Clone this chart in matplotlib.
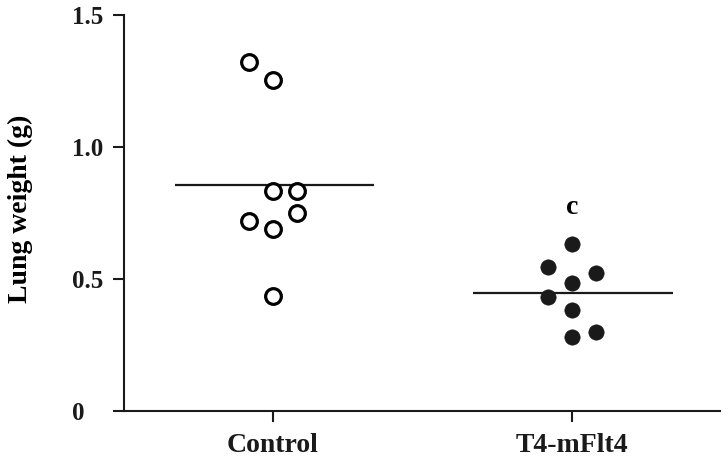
import matplotlib
matplotlib.use("Agg")
import matplotlib.pyplot as plt
import numpy as np

plt.rcParams['font.family'] = ['Liberation Serif', 'DejaVu Serif']
plt.rcParams['font.weight'] = 'bold'

categories = ["Control", "T4-mFlt4"]
control_values = [1.323, 1.254, 0.833, 0.833, 0.721, 0.689, 0.751, 0.437]
control_cols = [-1, 0, 0, 1, -1, 0, 1, 0]
t4_values = [0.633, 0.545, 0.523, 0.485, 0.432, 0.383, 0.299, 0.280]
t4_cols = [0, -1, 1, 0, -1, 0, 1, 0]
yticks = [0, 0.5, 1.0, 1.5]
ytick_labels = ["0", "0.5", "1.0", "1.5"]
sig_label = "c"

fig = plt.figure(figsize=(7.28, 4.59), dpi=100)
ax = fig.add_axes([124/728, 1-411/459, (720-124)/728, (411-15)/459])

cat_pos = [1, 2]
col_space = 24/299
line_span = [(0.672, 1.338), (1.669, 2.338)]

groups = [(control_values, control_cols), (t4_values, t4_cols)]
for i, (vals, cols) in enumerate(groups):
    xs = cat_pos[i] + np.array(cols) * col_space
    if i == 0:
        ax.plot(xs, vals, 'o', ms=11.3, mfc='white', mec='black', mew=2.3,
                linestyle='none', zorder=3)
    else:
        ax.plot(xs, vals, 'o', ms=11, mfc='#1a1a1a', mec='#1a1a1a', mew=0.5,
                linestyle='none', zorder=3)
    m = np.mean(vals)
    ax.plot(line_span[i], [m, m], color='#1a1a1a', lw=1.6, zorder=2,
            solid_capstyle='butt')

ax.text(cat_pos[1], 0.769, sig_label, ha='center', va='center',
        fontsize=20, fontweight='bold')

ax.set_xlim(1 - 149/299, 2 + 148/299)
ax.set_ylim(0, 1.5)
ax.set_xticks(cat_pos)
ax.set_xticklabels(categories, fontsize=20, fontweight='bold')
ax.set_yticks(yticks)
ax.set_yticklabels(ytick_labels, fontsize=18, fontweight='bold', ha='left')
ax.set_ylabel("Lung weight (g)", fontsize=20, fontweight='bold')
ax.yaxis.set_label_coords((33-124)/596, 0.511)

for s in ['top', 'right']:
    ax.spines[s].set_visible(False)
for s in ['left', 'bottom']:
    ax.spines[s].set_linewidth(1.5)
    ax.spines[s].set_color('#1a1a1a')
ax.spines['left'].set_bounds(0, 1.5)
ax.tick_params(axis='y', direction='out', length=8, width=1.5, pad=29.5, colors='#1a1a1a')
ax.tick_params(axis='x', direction='out', length=8, width=1.5, pad=8, colors='#1a1a1a')
ax.patch.set_alpha(0)
for ln in ax.lines:
    ln.set_clip_on(False)

fig.savefig("out.png", dpi=100)
